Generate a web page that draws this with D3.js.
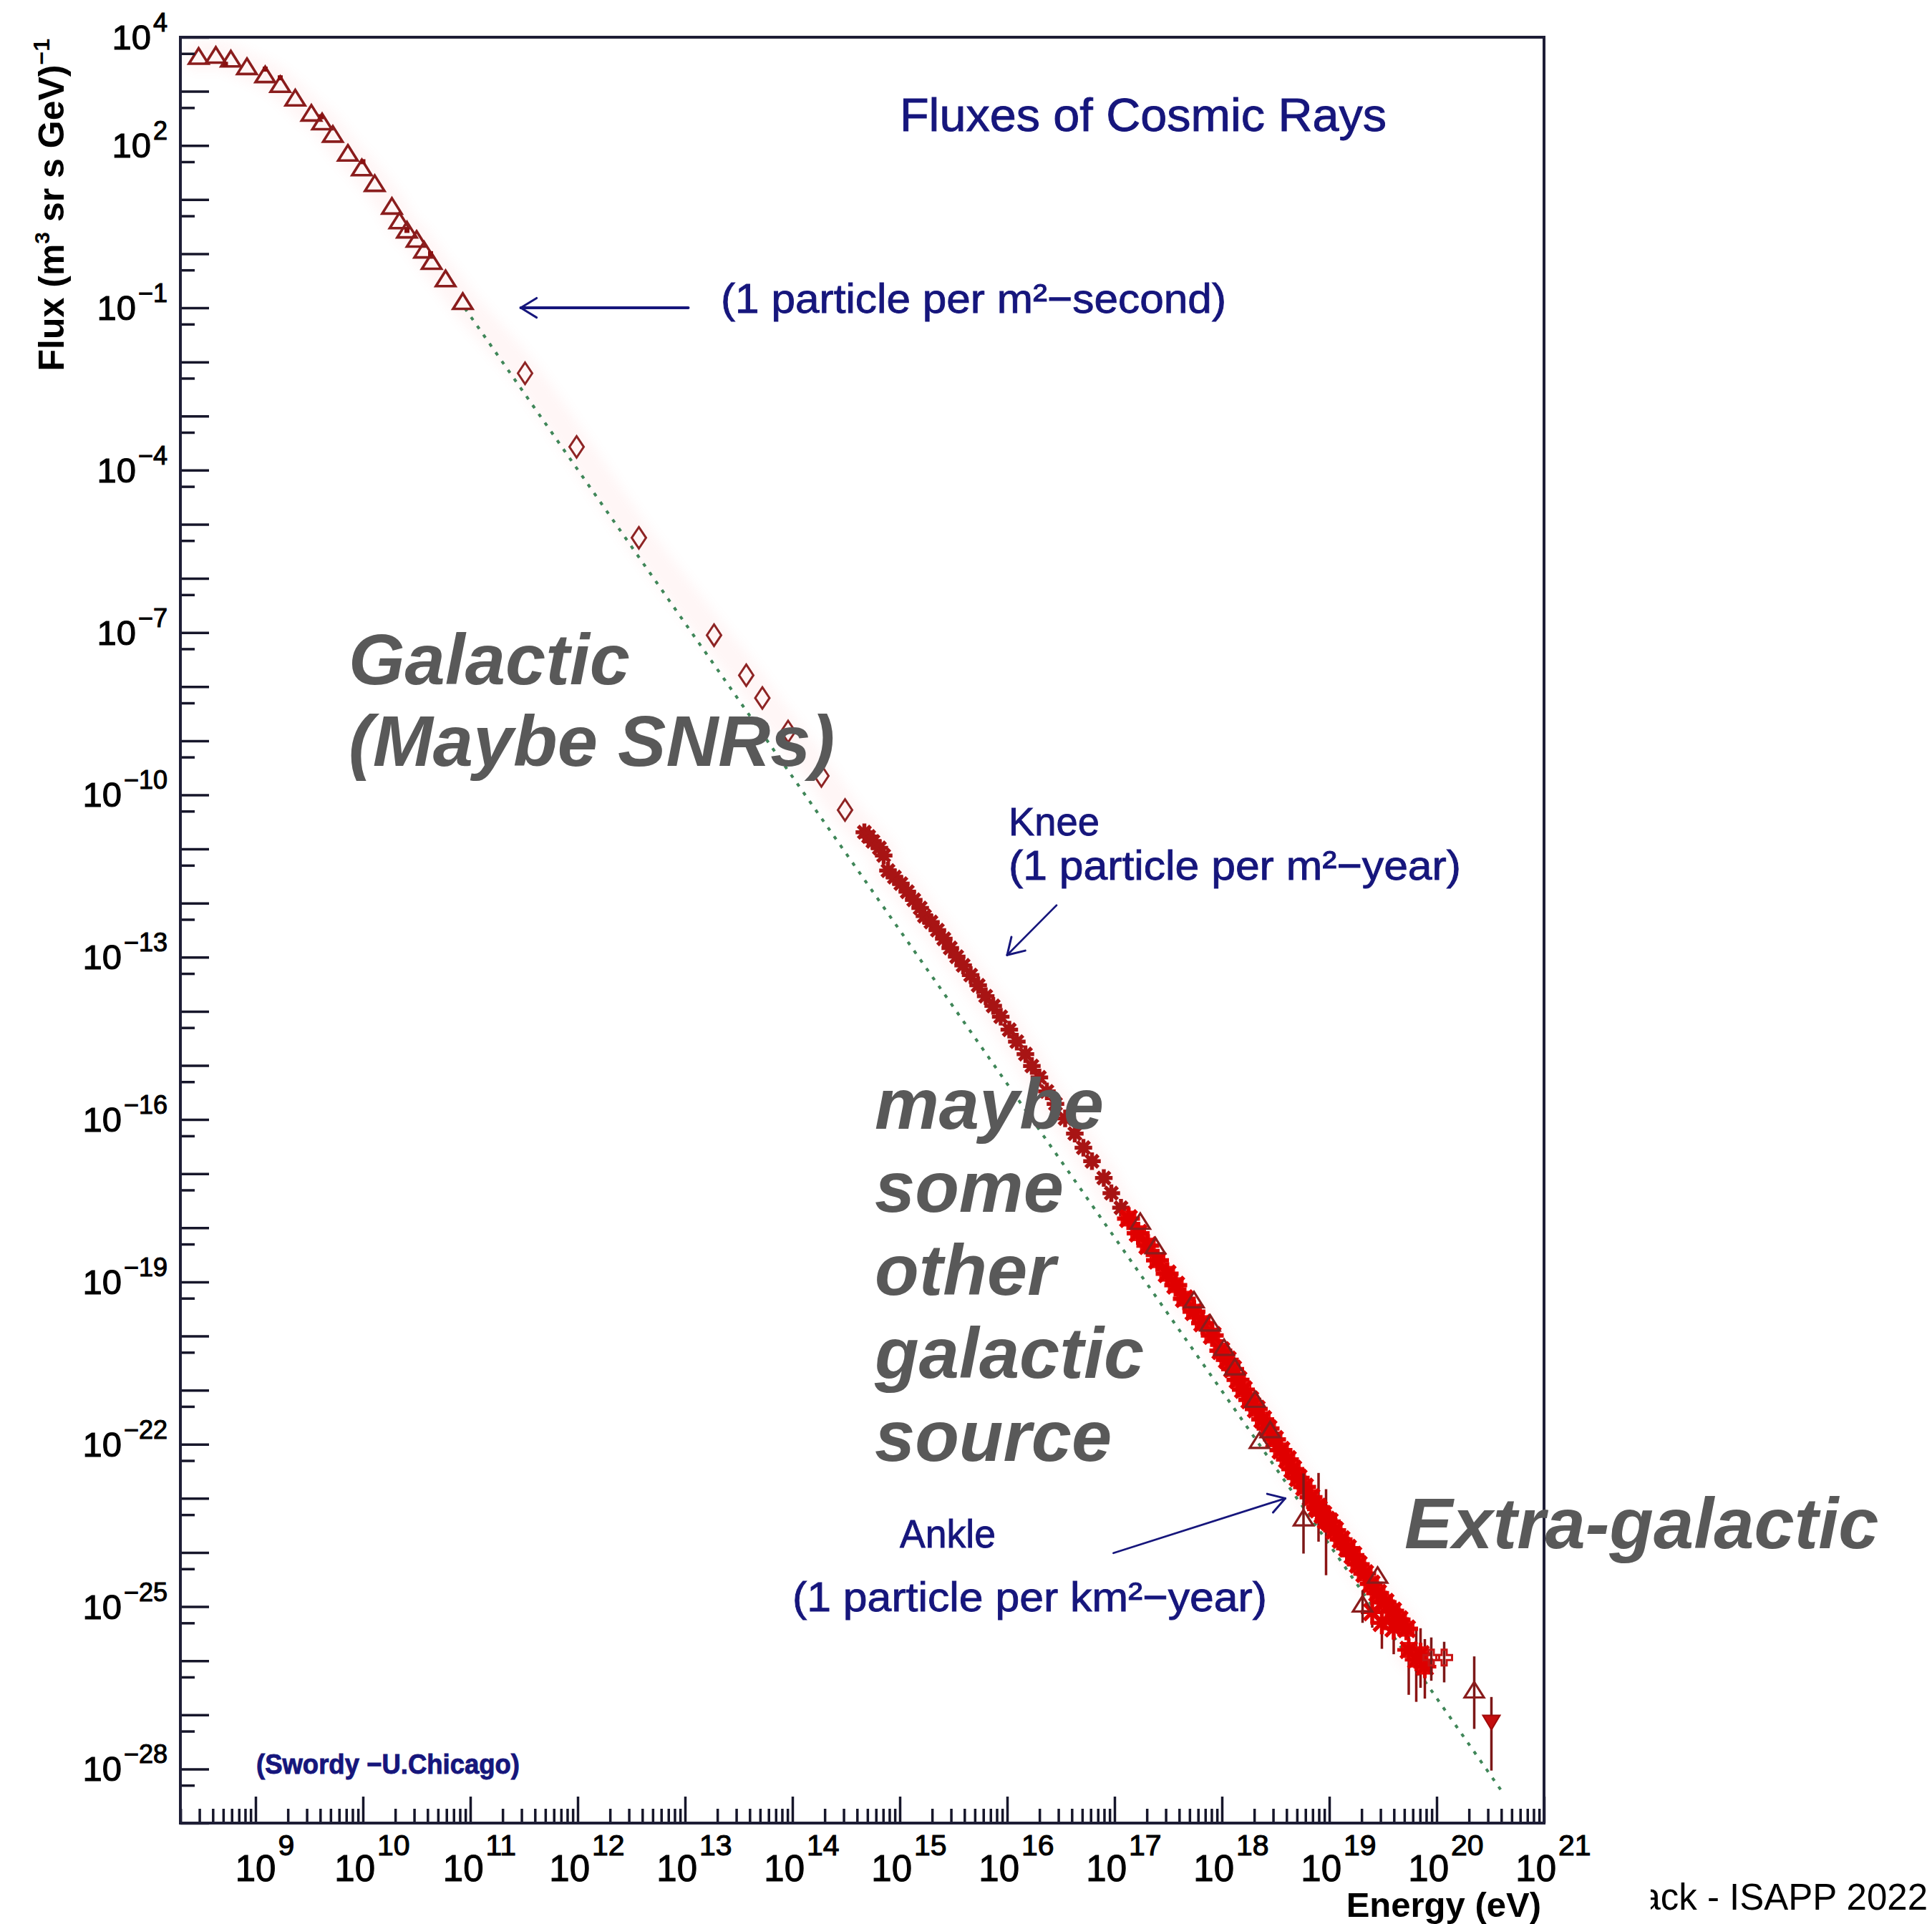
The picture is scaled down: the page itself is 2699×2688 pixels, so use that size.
<!DOCTYPE html>
<html>
<head>
<meta charset="utf-8">
<title>Fluxes of Cosmic Rays</title>
<script src="https://cdn.jsdelivr.net/npm/d3@7"></script>
<style>
  html, body { margin: 0; padding: 0; background: #ffffff; }
  svg { display: block; }
</style>
</head>
<body>
<svg id="chart" width="2699" height="2688"></svg>
<script>
// ---- Data: energies as log10(E / eV), fluxes as log10(flux / (m^2 sr s GeV)^-1) ----

// direct measurements at low energy (open triangles)
const lowTriLogE = [8.47, 8.63, 8.77, 8.92, 9.09, 9.23, 9.37, 9.52, 9.62, 9.72, 9.86, 9.99, 10.11, 10.27, 10.34, 10.41, 10.50, 10.57, 10.64, 10.77, 10.93];
const lowTriLogF = [3.65, 3.67, 3.60, 3.46, 3.31, 3.13, 2.88, 2.60, 2.44, 2.21, 1.86, 1.59, 1.30, 0.88, 0.61, 0.44, 0.27, 0.07, -0.14, -0.46, -0.88];

// second low-energy set (small filled dots)
const smallDotLogE = [8.72, 9.09, 9.23, 9.61, 10.00, 10.41, 10.63];
const smallDotLogF = [3.50, 3.41, 3.25, 2.53, 1.70, 0.43, 0.00];

// balloon / satellite points (open diamonds)
const diamondLogE = [11.51, 11.99, 12.57, 13.27, 13.57, 13.72, 13.96, 14.27, 14.49];
const diamondLogF = [-2.21, -3.57, -5.25, -7.05, -7.79, -8.21, -8.83, -9.65, -10.28];

// air-shower data around the knee (asterisks)
const kneeLogE = [14.67, 14.71, 14.75, 14.81, 14.85, 14.89, 14.95, 15.01, 15.07, 15.13, 15.19, 15.23, 15.29, 15.35, 15.41, 15.47, 15.53, 15.59, 15.66, 15.73, 15.80, 15.87, 15.94, 16.02, 16.09, 16.17, 16.23, 16.30, 16.37, 16.45, 16.54, 16.63, 16.71, 16.79, 16.90, 16.97, 17.06];
const kneeLogF = [-10.69, -10.77, -10.86, -10.98, -11.12, -11.40, -11.52, -11.64, -11.79, -11.94, -12.09, -12.24, -12.35, -12.50, -12.66, -12.83, -12.99, -13.15, -13.33, -13.52, -13.72, -13.90, -14.10, -14.34, -14.56, -14.79, -15.01, -15.22, -15.48, -15.71, -15.98, -16.26, -16.52, -16.77, -17.08, -17.36, -17.63];

// dense high-energy data (filled markers)
const bandLogE = [17.13, 17.22, 17.31, 17.40, 17.49, 17.57, 17.65, 17.74, 17.82, 17.91, 17.99, 18.05, 18.10, 18.15, 18.20, 18.26, 18.32, 18.38, 18.43, 18.49, 18.55, 18.61, 18.66, 18.71, 18.77, 18.83, 18.89, 18.94, 19.00, 19.05, 19.11, 19.17, 19.22, 19.27, 19.33, 19.39, 19.45, 19.52, 19.59, 19.65, 19.72];
const bandLogF = [-17.83, -18.10, -18.33, -18.60, -18.85, -19.06, -19.31, -19.55, -19.76, -19.99, -20.27, -20.44, -20.61, -20.81, -20.99, -21.18, -21.35, -21.54, -21.71, -21.91, -22.11, -22.28, -22.46, -22.62, -22.79, -22.98, -23.16, -23.30, -23.43, -23.59, -23.76, -23.92, -24.05, -24.22, -24.39, -24.58, -24.75, -24.92, -25.08, -25.24, -25.41];

// band points carrying error bars
const bandErrLogE = [18.90, 18.97, 19.40, 19.49, 19.60];
const bandErrLogF = [-23.20, -23.40, -25.10, -25.30, -25.40];
const bandErrLo   = [-23.80, -24.42, -25.39, -25.78, -25.88];
const bandErrHi   = [-22.53, -22.83, -24.86, -25.04, -25.08];

// highest-energy filled points with error bars
const clusterLogE = [19.74, 19.81, 19.85, 19.89];
const clusterLogF = [-25.80, -25.98, -25.88, -26.11];
const clusterLo   = [-26.63, -26.76, -26.50, -26.70];
const clusterHi   = [-25.35, -25.44, -25.40, -25.60];

// open triangles of another experiment (null = no error bar)
const openTriLogE = [17.24, 17.38, 17.74, 17.89, 18.02, 18.12, 18.31, 18.45, 18.35, 18.76, 19.31, 19.45, 20.35];
const openTriLogF = [-17.88, -18.33, -19.33, -19.76, -20.21, -20.57, -21.17, -21.73, -21.93, -23.36, -24.95, -24.42, -26.54];
const openTriLo   = [null, null, null, null, null, null, null, null, null, -24.02, -25.30, null, -27.26];
const openTriHi   = [null, null, null, null, null, null, null, null, null, -22.54, -24.70, null, -25.92];

// open crosses
const crossLogE = [19.95, 20.07];
const crossLogF = [-25.94, -25.94];
const crossLo   = [-26.37, -26.40];
const crossHi   = [-25.57, -25.65];

// filled down-pointing triangle
const downTriLogE = [20.51];
const downTriLogF = [-27.13];
const downTriLo   = [-28.03];
const downTriHi   = [-26.67];

// reference power law (dotted green)
const refLogE = [10.95, 20.62];
const refLogF = [-1.01, -28.45];

// tick labels (exponents of ten)
const yLabelExps = [4, 2, -1, -4, -7, -10, -13, -16, -19, -22, -25, -28];
const xLabelExps = [9, 10, 11, 12, 13, 14, 15, 16, 17, 18, 19, 20, 21];

// ---- Drawing ----
const FONT = "'Liberation Sans', Arial, Helvetica, sans-serif";
const NAVY = "#16167c";
const p10 = v => Math.pow(10, v);

const svg = d3.select("#chart");
svg.append("rect").attr("width", 2699).attr("height", 2688).attr("fill", "#ffffff");

const x = d3.scaleLog().domain([p10(8.3), 1e21]).range([252, 2157]);
const y = d3.scaleLog().domain([1e-29, 1e4]).range([2547, 52]);
const X = le => x(p10(le));
const Y = lf => y(p10(lf));

const [x0, x1] = x.range();
const [y1, y0] = y.range();

const defs = svg.append("defs");
defs.append("clipPath").attr("id", "plotClip")
  .append("rect").attr("x", x0).attr("y", y0).attr("width", x1 - x0).attr("height", y1 - y0);
defs.append("filter").attr("id", "soft").attr("x", "-20%").attr("y", "-20%").attr("width", "140%").attr("height", "140%")
  .append("feGaussianBlur").attr("stdDeviation", 8);
defs.append("clipPath").attr("id", "footClip")
  .append("rect").attr("x", 2306).attr("y", 2580).attr("width", 400).attr("height", 120);

const plot = svg.append("g").attr("clip-path", "url(#plotClip)");

// helper: zip parallel arrays into point objects
const zipPts = (le, lf, lo, hi) => le.map((e, i) => ({
  e, f: lf[i],
  lo: lo ? lo[i] : null,
  hi: hi ? hi[i] : null
}));

const lowTri = zipPts(lowTriLogE, lowTriLogF);
const dots = zipPts(smallDotLogE, smallDotLogF);
const diamonds = zipPts(diamondLogE, diamondLogF);
const knee = zipPts(kneeLogE, kneeLogF);
const band = zipPts(bandLogE, bandLogF);
const bandErr = zipPts(bandErrLogE, bandErrLogF, bandErrLo, bandErrHi);
const cluster = zipPts(clusterLogE, clusterLogF, clusterLo, clusterHi);
const openTri = zipPts(openTriLogE, openTriLogF, openTriLo, openTriHi);
const crosses = zipPts(crossLogE, crossLogF, crossLo, crossHi);
const downTri = zipPts(downTriLogE, downTriLogF, downTriLo, downTriHi);

// faint glow following the measured spectrum
const glowPts = [].concat(lowTri, diamonds, knee, band, cluster).sort((a, b) => a.e - b.e);
plot.append("path")
  .datum(glowPts)
  .attr("d", d3.line().x(d => X(d.e)).y(d => Y(d.f)).curve(d3.curveCatmullRom))
  .attr("fill", "none")
  .attr("stroke", "#ff9090")
  .attr("stroke-width", 40)
  .attr("stroke-linecap", "round")
  .attr("opacity", 0.08)
  .attr("filter", "url(#soft)");

// reference power law
plot.append("path")
  .datum(zipPts(refLogE, refLogF))
  .attr("d", d3.line().x(d => X(d.e)).y(d => Y(d.f)))
  .attr("fill", "none")
  .attr("stroke", "#3f8658")
  .attr("stroke-width", 4)
  .attr("stroke-dasharray", "5 10");

// marker shapes (centred on the data point)
const shapes = {
  triUp: "M0,-11L13.5,10.5L-13.5,10.5Z",
  diamond: "M0,-15L10,0L0,15L-10,0Z",
  aster: "M-9.5,0H9.5M0,-9.5V9.5M-6.7,-6.7L6.7,6.7M-6.7,6.7L6.7,-6.7",
  bigAster: "M-16,0H16M0,-16V16M-11.3,-11.3L11.3,11.3M-11.3,11.3L11.3,-11.3",
  square: "M-11,-11H11V11H-11Z",
  cross: "M-3.5,-11H3.5V-3.5H11V3.5H3.5V11H-3.5V3.5H-11V-3.5H-3.5Z",
  triDown: "M0,11L12,-9L-12,-9Z",
  dot: "M-3.5,-3.5H3.5V3.5H-3.5Z"
};

function errorBars(data, color) {
  plot.append("g").selectAll("line")
    .data(data.filter(d => d.lo !== null && d.hi !== null))
    .join("line")
    .attr("x1", d => X(d.e)).attr("x2", d => X(d.e))
    .attr("y1", d => Y(d.hi)).attr("y2", d => Y(d.lo))
    .attr("stroke", color)
    .attr("stroke-width", 3.5);
}

function markers(data, shape, attrs) {
  const sel = plot.append("g").selectAll("path")
    .data(data)
    .join("path")
    .attr("d", shapes[shape])
    .attr("transform", d => `translate(${X(d.e)},${Y(d.f)})`);
  Object.entries(attrs).forEach(([k, v]) => sel.attr(k, v));
  return sel;
}

// low-energy triangles and dots
markers(lowTri, "triUp", { fill: "none", stroke: "#8a1c1c", "stroke-width": 3.6, "stroke-linejoin": "miter" });
markers(dots, "dot", { fill: "#8a1010" });

// diamonds
markers(diamonds, "diamond", { fill: "none", stroke: "#8e2424", "stroke-width": 3 });

// knee asterisks
markers(knee, "aster", { fill: "none", stroke: "#a81414", "stroke-width": 5.5, "stroke-linecap": "square" });

// high-energy filled data
errorBars(bandErr, "#8b1414");
errorBars(cluster, "#8b1414");
markers(band, "square", { fill: "#ee0a0a" });
markers(band, "bigAster", { fill: "none", stroke: "#e00000", "stroke-width": 6 });
markers(bandErr, "bigAster", { fill: "none", stroke: "#e00000", "stroke-width": 5.5 });
markers(cluster, "square", { fill: "#e80808" });
markers(cluster, "bigAster", { fill: "none", stroke: "#dd0000", "stroke-width": 5 });

// open triangles, crosses and the last filled triangle
errorBars(openTri, "#7c1818");
errorBars(crosses, "#7c1818");
errorBars(downTri, "#7c1818");
markers(openTri, "triUp", { fill: "none", stroke: "#8a1c1c", "stroke-width": 3.2 });
markers(crosses, "cross", { fill: "none", stroke: "#c81414", "stroke-width": 3 });
markers(downTri, "triDown", { fill: "#c40e0e", stroke: "#a00a0a", "stroke-width": 2 });

// ---- Axes (ticks point into the frame) ----
const AX = "#16162a";
const yMajor = d3.range(-29, 5).map(p10);
const yMinor = d3.range(-29, 4).map(k => 5 * p10(k));
const xMajor = d3.range(9, 22).map(p10);
const xMinor = [];
d3.range(8, 21).forEach(k => d3.range(2, 10).forEach(m => {
  const v = m * p10(k);
  if (v > x.domain()[0] && v < x.domain()[1]) xMinor.push(v);
}));

function axisGroup(axis, transform) {
  const g = svg.append("g").attr("transform", transform).attr("color", AX).call(axis);
  g.select(".domain").remove();
  g.selectAll(".tick line").attr("stroke-width", 3.5);
  return g;
}
axisGroup(d3.axisRight(y).tickValues(yMajor).tickSize(40).tickFormat(""), `translate(${x0},0)`);
axisGroup(d3.axisRight(y).tickValues(yMinor).tickSize(20).tickFormat(""), `translate(${x0},0)`);
axisGroup(d3.axisTop(x).tickValues(xMajor).tickSize(37).tickFormat(""), `translate(0,${y1})`);
axisGroup(d3.axisTop(x).tickValues(xMinor).tickSize(20).tickFormat(""), `translate(0,${y1})`);

// frame
svg.append("rect")
  .attr("x", x0).attr("y", y0).attr("width", x1 - x0).attr("height", y1 - y0)
  .attr("fill", "none").attr("stroke", "#1e1e36").attr("stroke-width", 4);

const expText = k => (k < 0 ? "\u2212" + (-k) : String(k));

// y tick labels: 10 with raised exponent, right-aligned
const yLab = svg.append("g").attr("font-family", FONT).attr("fill", "#000")
  .attr("stroke", "#000").attr("stroke-width", 1.1);
yLabelExps.forEach(k => {
  const t = yLab.append("text")
    .attr("x", 234).attr("y", y(p10(k)) + 17)
    .attr("text-anchor", "end");
  t.append("tspan").attr("font-size", 49).text("10");
  t.append("tspan").attr("font-size", 36).attr("dx", 3).attr("dy", -25).text(expText(k));
});

// x tick labels
const xLab = svg.append("g").attr("font-family", FONT).attr("fill", "#000")
  .attr("stroke", "#000").attr("stroke-width", 1.1);
xLabelExps.forEach(k => {
  const t = xLab.append("text")
    .attr("x", x(p10(k)) + 13).attr("y", 2628)
    .attr("text-anchor", "middle");
  t.append("tspan").attr("font-size", 51).text("10");
  t.append("tspan").attr("font-size", 41).attr("dx", 3).attr("dy", -36).text(expText(k));
});

// axis titles
svg.append("text")
  .attr("x", 2153).attr("y", 2678)
  .attr("text-anchor", "end")
  .attr("font-family", FONT).attr("font-weight", "bold").attr("font-size", 49)
  .attr("fill", "#000")
  .text("Energy (eV)");

const yTitle = svg.append("text")
  .attr("transform", "translate(89,54) rotate(-90)")
  .attr("text-anchor", "end")
  .attr("font-family", FONT).attr("font-weight", "bold").attr("font-size", 50)
  .attr("fill", "#000");
yTitle.append("tspan").text("Flux (m");
yTitle.append("tspan").attr("font-size", 30).attr("dy", -20).text("3");
yTitle.append("tspan").attr("dy", 20).text(" sr s GeV)");
yTitle.append("tspan").attr("font-size", 32).attr("dy", -20).text("\u22121");

// ---- Annotations (navy) ----
const ann = svg.append("g").attr("font-family", FONT).attr("fill", NAVY)
  .attr("stroke", NAVY).attr("stroke-width", 0.9);
function annText(str, xx, yy, size, len, weight) {
  ann.append("text")
    .attr("x", xx).attr("y", yy)
    .attr("font-size", size)
    .attr("font-weight", weight || "normal")
    .attr("textLength", len).attr("lengthAdjust", "spacingAndGlyphs")
    .text(str);
}
annText("Fluxes of Cosmic Rays", 1257, 183, 64, 680);
annText("(1 particle per m\u00b2\u2212second)", 1007, 437, 58, 706);
annText("Knee", 1409, 1167, 56, 127);
annText("(1 particle per m\u00b2\u2212year)", 1409, 1229, 58, 632);
annText("Ankle", 1257, 2162, 56, 134);
annText("(1 particle per km\u00b2\u2212year)", 1107, 2251, 58, 663);
annText("(Swordy \u2212U.Chicago)", 358, 2478, 38, 368, "bold");

// arrows, anchored in data coordinates
const arrows = [
  { from: [13.03, -1.0], to: [11.47, -1.0], w: 4 },
  { from: [16.46, -12.04], to: [16.0, -12.96], w: 2.6 },
  { from: [16.99, -24.01], to: [18.59, -23.0], w: 2.8 }
];
const arrG = svg.append("g").attr("stroke", NAVY).attr("fill", "none").attr("stroke-linecap", "round");
arrows.forEach(a => {
  const xa = X(a.from[0]), ya = Y(a.from[1]);
  const xb = X(a.to[0]), yb = Y(a.to[1]);
  arrG.append("line").attr("x1", xa).attr("y1", ya).attr("x2", xb).attr("y2", yb).attr("stroke-width", a.w);
  const ang = Math.atan2(yb - ya, xb - xa);
  const L = 26, spread = 0.55;
  [ang + Math.PI - spread, ang + Math.PI + spread].forEach(t => {
    arrG.append("line")
      .attr("x1", xb).attr("y1", yb)
      .attr("x2", xb + L * Math.cos(t)).attr("y2", yb + L * Math.sin(t))
      .attr("stroke-width", 3);
  });
});

// ---- Overlay commentary (grey bold italic) ----
const over = svg.append("g")
  .attr("font-family", FONT).attr("font-weight", "bold").attr("font-style", "italic")
  .attr("font-size", 101).attr("fill", "#595959");
[
  ["Galactic", 487, 956],
  ["(Maybe SNRs)", 487, 1070],
  ["maybe", 1222, 1577],
  ["some", 1222, 1693],
  ["other", 1222, 1809],
  ["galactic", 1222, 1925],
  ["source", 1222, 2041],
  ["Extra-galactic", 1962, 2163]
].forEach(([s, xx, yy]) => over.append("text").attr("x", xx).attr("y", yy).text(s));

// footer
svg.append("g").attr("clip-path", "url(#footClip)")
  .append("text")
  .attr("x", 2693).attr("y", 2668)
  .attr("text-anchor", "end")
  .attr("font-family", FONT).attr("font-size", 51).attr("fill", "#000")
  .text("ack - ISAPP 2022");
</script>
</body>
</html>
